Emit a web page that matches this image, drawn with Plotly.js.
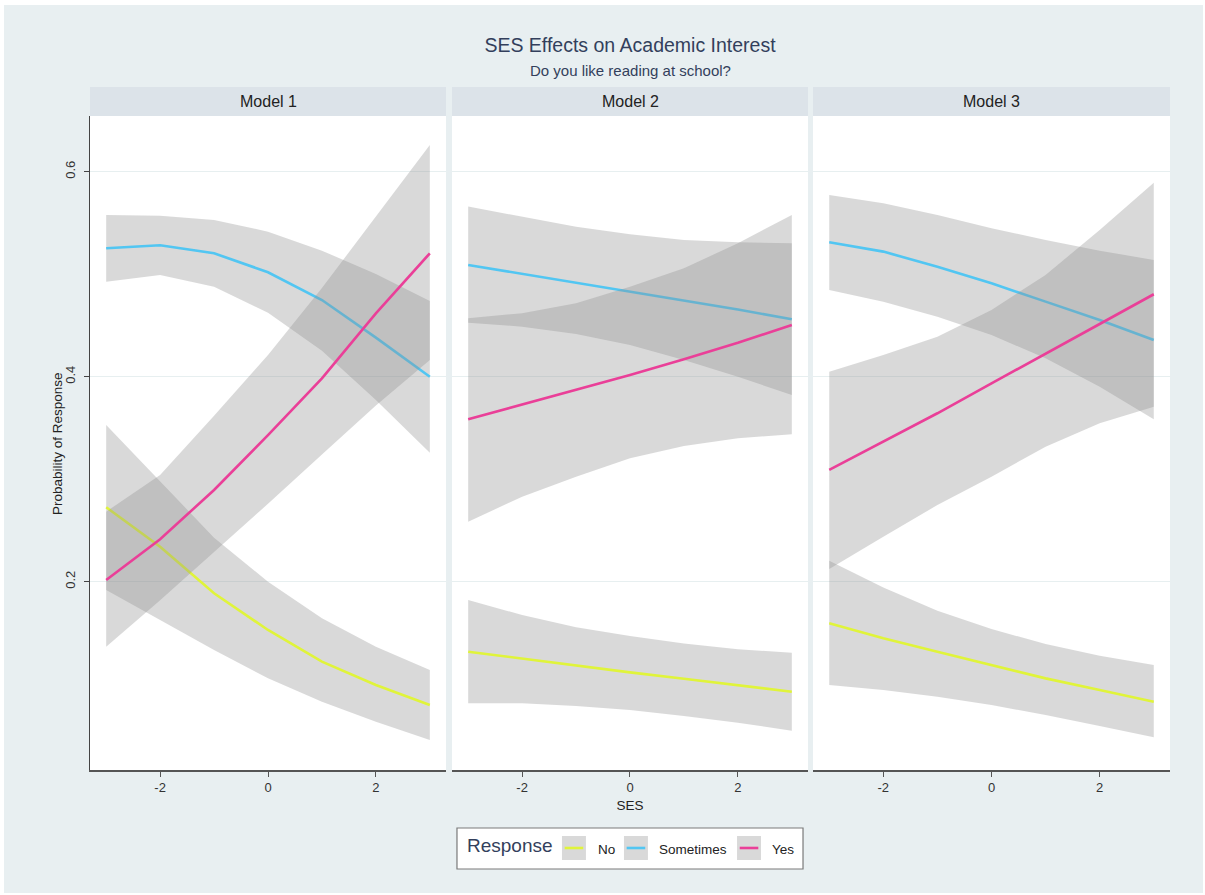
<!DOCTYPE html>
<html>
<head>
<meta charset="utf-8">
<script src="https://cdn.plot.ly/plotly-3.0.1.min.js"></script>
<style>
  html, body { margin: 0; padding: 0; background: #ffffff; }
  #chart { position: absolute; left: 4px; top: 5px; width: 1199px; height: 888px; }
</style>
</head>
<body>
<div id="chart"></div>
<script>
// Predicted probabilities of each response across SES, with confidence bands
const ses = [-3, -2, -1, 0, 1, 2, 3];
const models = ['Model 1', 'Model 2', 'Model 3'];
const responses = ['No', 'Sometimes', 'Yes'];
const yTickVals = [0.2, 0.4, 0.6];
const yTickText = ['0.2', '0.4', '0.6'];
const xTickVals = [-2, 0, 2];
const xTickText = ['-2', '0', '2'];

// Model 1
const m1NoFit   = [0.2726, 0.2341, 0.1887, 0.1529, 0.1220, 0.0992, 0.0797];
const m1NoLo    = [0.1919, 0.1626, 0.1334, 0.1057, 0.0829, 0.0634, 0.0456];
const m1NoHi    = [0.3529, 0.2982, 0.2429, 0.2000, 0.1643, 0.1366, 0.1139];
const m1SomeFit = [0.5253, 0.5282, 0.5204, 0.5019, 0.4748, 0.4381, 0.4000];
const m1SomeLo  = [0.4927, 0.4992, 0.4878, 0.4624, 0.4254, 0.3773, 0.3259];
const m1SomeHi  = [0.5578, 0.5571, 0.5529, 0.5415, 0.5229, 0.5002, 0.4739];
const m1YesFit  = [0.2017, 0.2414, 0.2895, 0.3430, 0.3984, 0.4618, 0.5204];
const m1YesLo   = [0.1366, 0.1820, 0.2290, 0.2760, 0.3240, 0.3720, 0.4163];
const m1YesHi   = [0.2683, 0.3041, 0.3620, 0.4212, 0.4865, 0.5560, 0.6260];

// Model 2
const m2NoFit   = [0.1317, 0.1248, 0.1180, 0.1115, 0.1053, 0.0988, 0.0927];
const m2NoLo    = [0.0813, 0.0813, 0.0787, 0.0748, 0.0690, 0.0624, 0.0546];
const m2NoHi    = [0.1821, 0.1675, 0.1555, 0.1470, 0.1398, 0.1340, 0.1307];
const m2SomeFit = [0.5090, 0.5004, 0.4918, 0.4833, 0.4745, 0.4655, 0.4560];
const m2SomeLo  = [0.4527, 0.4488, 0.4417, 0.4309, 0.4163, 0.4000, 0.3821];
const m2SomeHi  = [0.5659, 0.5561, 0.5463, 0.5389, 0.5334, 0.5311, 0.5301];
const m2YesFit  = [0.3584, 0.3730, 0.3870, 0.4016, 0.4170, 0.4330, 0.4504];
const m2YesLo   = [0.2585, 0.2829, 0.3024, 0.3204, 0.3324, 0.3399, 0.3438];
const m2YesHi   = [0.4570, 0.4619, 0.4716, 0.4878, 0.5058, 0.5301, 0.5578];

// Model 3
const m3NoFit   = [0.1594, 0.1448, 0.1317, 0.1187, 0.1057, 0.0943, 0.0829];
const m3NoLo    = [0.0992, 0.0943, 0.0878, 0.0797, 0.0699, 0.0592, 0.0482];
const m3NoHi    = [0.2205, 0.1944, 0.1717, 0.1538, 0.1392, 0.1277, 0.1187];
const m3SomeFit = [0.5311, 0.5220, 0.5073, 0.4911, 0.4732, 0.4553, 0.4358];
const m3SomeLo  = [0.4846, 0.4732, 0.4585, 0.4407, 0.4179, 0.3902, 0.3584];
const m3SomeHi  = [0.5773, 0.5692, 0.5578, 0.5448, 0.5334, 0.5229, 0.5139];
const m3YesFit  = [0.3090, 0.3366, 0.3643, 0.3935, 0.4221, 0.4514, 0.4804];
const m3YesLo   = [0.2124, 0.2439, 0.2748, 0.3024, 0.3317, 0.3545, 0.3707];
const m3YesHi   = [0.4049, 0.4212, 0.4390, 0.4651, 0.4992, 0.5431, 0.5893];

const panels = [
  [[m1NoFit, m1NoLo, m1NoHi], [m1SomeFit, m1SomeLo, m1SomeHi], [m1YesFit, m1YesLo, m1YesHi]],
  [[m2NoFit, m2NoLo, m2NoHi], [m2SomeFit, m2SomeLo, m2SomeHi], [m2YesFit, m2YesLo, m2YesHi]],
  [[m3NoFit, m3NoLo, m3NoHi], [m3SomeFit, m3SomeLo, m3SomeHi], [m3YesFit, m3YesLo, m3YesHi]]
];

// styling
const FONT = 'Liberation Sans, Arial, Helvetica, sans-serif';
const NAVY = '#333f5c';
const lineColors = ['#e0f43a', '#52c6f2', '#ea3f98'];
const bandFill = 'rgba(144,144,144,0.342)';
const bgColor = '#e8eff1';
const stripColor = '#dce3e9';
const gridColor = '#e7eff0';
const domains = [[0, 0.32963], [0.33519, 0.66481], [0.66944, 1]];

const traces = [];
panels.forEach((series, p) => {
  const xa = p === 0 ? 'x' : 'x' + (p + 1);
  const ya = p === 0 ? 'y' : 'y' + (p + 1);
  series.forEach((s, r) => {
    const [fit, lo, hi] = s;
    // confidence band as a closed polygon
    traces.push({
      type: 'scatter', mode: 'lines', xaxis: xa, yaxis: ya,
      x: ses.concat(ses.slice().reverse()),
      y: hi.concat(lo.slice().reverse()),
      fill: 'toself', fillcolor: bandFill,
      line: { width: 0, color: 'rgba(0,0,0,0)' },
      hoverinfo: 'skip', showlegend: false
    });
    traces.push({
      type: 'scatter', mode: 'lines', xaxis: xa, yaxis: ya,
      x: ses, y: fit, name: responses[r],
      line: { color: lineColors[r], width: 2.6 },
      showlegend: false
    });
  });
});

const xRange = [-3.3, 3.3];
const yRange = [0.0163, 0.6543];

const layout = {
  width: 1199, height: 888,
  margin: { l: 86, r: 33, t: 111, b: 123 },
  paper_bgcolor: bgColor,
  plot_bgcolor: '#ffffff',
  font: { family: FONT, color: '#333333', size: 13 },
  showlegend: false,
  title: {
    text: 'SES Effects on Academic Interest',
    font: { family: FONT, size: 19.5, color: NAVY },
    x: 0.5, xref: 'paper', xanchor: 'center',
    y: 0.955, yref: 'container', yanchor: 'middle'
  },
  shapes: [],
  annotations: [
    {
      text: 'Do you like reading at school?', xref: 'paper', yref: 'paper',
      x: 0.5, y: 1.0703, xanchor: 'center', yanchor: 'middle', showarrow: false,
      font: { family: FONT, size: 15, color: NAVY }
    },
    {
      text: 'Probability of Response', xref: 'paper', yref: 'paper',
      x: -0.0306, y: 0.5, xanchor: 'center', yanchor: 'middle', textangle: -90,
      showarrow: false, font: { family: FONT, size: 13.5, color: '#222222' }
    }
  ]
};

const axisX = (p) => ({
  domain: domains[p], range: xRange, anchor: p === 0 ? 'y' : 'y' + (p + 1),
  showline: true, linecolor: '#555555', linewidth: 1.5,
  ticks: 'outside', ticklen: 5, tickwidth: 1, tickcolor: '#555555',
  tickvals: xTickVals, ticktext: xTickText,
  tickfont: { family: FONT, size: 13, color: '#333333' },
  showgrid: false, zeroline: false, fixedrange: true
});
const axisY = (p) => ({
  range: yRange, anchor: p === 0 ? 'x' : 'x' + (p + 1),
  showline: p === 0, linecolor: '#444444', linewidth: 1.5,
  ticks: p === 0 ? 'outside' : '', ticklen: 5, tickwidth: 1, tickcolor: '#444444',
  tickvals: yTickVals, ticktext: yTickText, tickangle: -90,
  showticklabels: p === 0, ticklabelstandoff: 3,
  tickfont: { family: FONT, size: 13, color: '#333333' },
  showgrid: true, gridcolor: gridColor, gridwidth: 1,
  zeroline: false, fixedrange: true
});

layout.xaxis = axisX(0); layout.xaxis2 = axisX(1); layout.xaxis3 = axisX(2);
layout.yaxis = axisY(0); layout.yaxis2 = axisY(1); layout.yaxis3 = axisY(2);
layout.yaxis2.matches = 'y'; layout.yaxis3.matches = 'y';

layout.xaxis2.title = { text: 'SES', standoff: 6,
  font: { family: FONT, size: 13.5, color: '#222222' } };

// facet strips
models.forEach((m, p) => {
  layout.shapes.push({
    type: 'rect', xref: 'paper', yref: 'paper',
    x0: domains[p][0], x1: domains[p][1], y0: 1.0, y1: 1.0443,
    fillcolor: stripColor, line: { width: 0 }, layer: 'below'
  });
  layout.annotations.push({
    text: m, xref: 'paper', yref: 'paper',
    x: (domains[p][0] + domains[p][1]) / 2, y: 1.0222,
    xanchor: 'center', yanchor: 'middle', showarrow: false,
    font: { family: FONT, size: 16, color: '#222222' }
  });
});

// legend box
const lg = {
  box: [0.3398, 0.6602, -0.1514, -0.0887],
  titleX: 0.3473, titleY: -0.1147,
  keyX: [0.4370, 0.4944, 0.5991], keyW: 0.0222, keyY: [-0.1376, -0.1009],
  labelX: [0.4685, 0.5250, 0.6297], labelY: -0.1208
};
layout.shapes.push({
  type: 'rect', xref: 'paper', yref: 'paper',
  x0: lg.box[0], x1: lg.box[1], y0: lg.box[2], y1: lg.box[3],
  fillcolor: '#ffffff', line: { color: '#7a7a7a', width: 1.2 }
});
layout.annotations.push({
  text: 'Response', xref: 'paper', yref: 'paper', x: lg.titleX, y: lg.titleY,
  xanchor: 'left', yanchor: 'middle', showarrow: false,
  font: { family: FONT, size: 19, color: NAVY }
});
responses.forEach((r, i) => {
  const x0 = lg.keyX[i];
  layout.shapes.push({
    type: 'rect', xref: 'paper', yref: 'paper',
    x0: x0, x1: x0 + lg.keyW, y0: lg.keyY[0], y1: lg.keyY[1],
    fillcolor: '#d9d9d9', line: { width: 0 }
  });
  const ym = (lg.keyY[0] + lg.keyY[1]) / 2;
  layout.shapes.push({
    type: 'line', xref: 'paper', yref: 'paper',
    x0: x0 + 0.0025, x1: x0 + lg.keyW - 0.0025, y0: ym, y1: ym,
    line: { color: lineColors[i], width: 2.6 }
  });
  layout.annotations.push({
    text: r, xref: 'paper', yref: 'paper', x: lg.labelX[i], y: lg.labelY,
    xanchor: 'left', yanchor: 'middle', showarrow: false,
    font: { family: FONT, size: 13.5, color: '#222222' }
  });
});

Plotly.newPlot('chart', traces, layout, { displayModeBar: false, staticPlot: true });
</script>
</body>
</html>
